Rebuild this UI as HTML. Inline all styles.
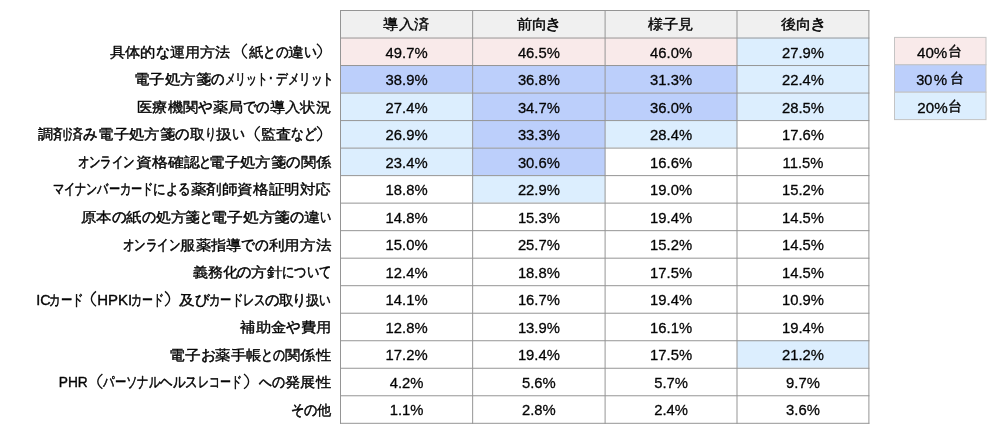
<!DOCTYPE html>
<html lang="ja"><head><meta charset="utf-8"><title>table</title>
<style>html,body{margin:0;padding:0;background:#fff;}body{width:1000px;height:438px;overflow:hidden;}svg{display:block;will-change:transform;}text{font-family:"Liberation Sans",sans-serif;font-size:14.4px;fill:#050505;stroke:#050505;stroke-width:0.38px;stroke-linejoin:round;}.n{font-size:15.4px;text-anchor:middle;stroke-width:0.3px;}.k{font-size:14.6px;stroke-width:0.55px;}.d{font-size:15.4px;stroke-width:0.3px;}.h{text-anchor:middle;}</style></head><body>
<svg width="1000" height="438" viewBox="0 0 1000 438">
<rect x="0" y="0" width="1000" height="438" fill="#fff"/>
<rect x="340.5" y="10.0" width="528.4" height="27.5" fill="#f0f0f0"/>
<rect x="340.5" y="37.5" width="132.1" height="27.5" fill="#f9eaea"/>
<rect x="472.6" y="37.5" width="132.5" height="27.5" fill="#f9eaea"/>
<rect x="605.1" y="37.5" width="131.9" height="27.5" fill="#f9eaea"/>
<rect x="737.0" y="37.5" width="131.9" height="27.5" fill="#dceefe"/>
<rect x="340.5" y="65.0" width="132.1" height="27.5" fill="#bccffb"/>
<rect x="472.6" y="65.0" width="132.5" height="27.5" fill="#bccffb"/>
<rect x="605.1" y="65.0" width="131.9" height="27.5" fill="#bccffb"/>
<rect x="737.0" y="65.0" width="131.9" height="27.5" fill="#dceefe"/>
<rect x="340.5" y="92.6" width="132.1" height="27.5" fill="#dceefe"/>
<rect x="472.6" y="92.6" width="132.5" height="27.5" fill="#bccffb"/>
<rect x="605.1" y="92.6" width="131.9" height="27.5" fill="#bccffb"/>
<rect x="737.0" y="92.6" width="131.9" height="27.5" fill="#dceefe"/>
<rect x="340.5" y="120.1" width="132.1" height="27.5" fill="#dceefe"/>
<rect x="472.6" y="120.1" width="132.5" height="27.5" fill="#bccffb"/>
<rect x="605.1" y="120.1" width="131.9" height="27.5" fill="#dceefe"/>
<rect x="340.5" y="147.6" width="132.1" height="27.5" fill="#dceefe"/>
<rect x="472.6" y="147.6" width="132.5" height="27.5" fill="#bccffb"/>
<rect x="472.6" y="175.1" width="132.5" height="27.5" fill="#dceefe"/>
<rect x="737.0" y="340.2" width="131.9" height="27.5" fill="#dceefe"/>
<line x1="340.0" y1="10.50" x2="869.4" y2="10.50" stroke="#959595" stroke-width="1"/>
<line x1="340.0" y1="38.02" x2="869.4" y2="38.02" stroke="#959595" stroke-width="1"/>
<line x1="340.0" y1="65.54" x2="869.4" y2="65.54" stroke="#959595" stroke-width="1"/>
<line x1="340.0" y1="93.06" x2="869.4" y2="93.06" stroke="#959595" stroke-width="1"/>
<line x1="340.0" y1="120.58" x2="869.4" y2="120.58" stroke="#959595" stroke-width="1"/>
<line x1="340.0" y1="148.10" x2="869.4" y2="148.10" stroke="#959595" stroke-width="1"/>
<line x1="340.0" y1="175.62" x2="869.4" y2="175.62" stroke="#959595" stroke-width="1"/>
<line x1="340.0" y1="203.14" x2="869.4" y2="203.14" stroke="#959595" stroke-width="1"/>
<line x1="340.0" y1="230.66" x2="869.4" y2="230.66" stroke="#959595" stroke-width="1"/>
<line x1="340.0" y1="258.18" x2="869.4" y2="258.18" stroke="#959595" stroke-width="1"/>
<line x1="340.0" y1="285.70" x2="869.4" y2="285.70" stroke="#959595" stroke-width="1"/>
<line x1="340.0" y1="313.22" x2="869.4" y2="313.22" stroke="#959595" stroke-width="1"/>
<line x1="340.0" y1="340.74" x2="869.4" y2="340.74" stroke="#959595" stroke-width="1"/>
<line x1="340.0" y1="368.26" x2="869.4" y2="368.26" stroke="#959595" stroke-width="1"/>
<line x1="340.0" y1="395.78" x2="869.4" y2="395.78" stroke="#959595" stroke-width="1"/>
<line x1="340.0" y1="423.30" x2="869.4" y2="423.30" stroke="#959595" stroke-width="1"/>
<line x1="340.50" y1="10.0" x2="340.50" y2="423.8" stroke="#959595" stroke-width="1"/>
<line x1="472.65" y1="10.0" x2="472.65" y2="423.8" stroke="#959595" stroke-width="1"/>
<line x1="605.10" y1="10.0" x2="605.10" y2="423.8" stroke="#959595" stroke-width="1"/>
<line x1="737.00" y1="10.0" x2="737.00" y2="423.8" stroke="#959595" stroke-width="1"/>
<line x1="868.90" y1="10.0" x2="868.90" y2="423.8" stroke="#959595" stroke-width="1"/>
<rect x="894.5" y="37.4" width="91.5" height="27.4" fill="#f9eaea" stroke="#c4c4c4" stroke-width="1"/>
<rect x="894.5" y="64.8" width="91.5" height="27.4" fill="#bccffb" stroke="#c4c4c4" stroke-width="1"/>
<rect x="894.5" y="92.2" width="91.5" height="27.4" fill="#dceefe" stroke="#c4c4c4" stroke-width="1"/>
<text class="d" x="917.0" y="57.6" textLength="30.3" lengthAdjust="spacingAndGlyphs">40%</text>
<text x="947.8" y="55.8" textLength="14.0" lengthAdjust="spacingAndGlyphs">台</text>
<text class="d" x="916.2" y="85.1" textLength="16.2" lengthAdjust="spacingAndGlyphs">30</text>
<text class="d" x="933.7" y="85.1" textLength="13.4" lengthAdjust="spacingAndGlyphs">%</text>
<text x="949.6" y="83.3" textLength="14.0" lengthAdjust="spacingAndGlyphs">台</text>
<text class="d" x="917.3" y="112.7" textLength="30.3" lengthAdjust="spacingAndGlyphs">20%</text>
<text x="947.8" y="110.9" textLength="14.0" lengthAdjust="spacingAndGlyphs">台</text>
<text x="383.4" y="29.3" textLength="46.0" lengthAdjust="spacingAndGlyphs">導入済</text>
<text x="516.9" y="29.3" textLength="30.6" lengthAdjust="spacingAndGlyphs">前向</text>
<text class="k" x="545.2" y="29.3" textLength="16.7" lengthAdjust="spacingAndGlyphs">き</text>
<text x="647.6" y="29.3" textLength="46.0" lengthAdjust="spacingAndGlyphs">様子見</text>
<text x="781.1" y="29.3" textLength="30.6" lengthAdjust="spacingAndGlyphs">後向</text>
<text class="k" x="809.8" y="29.3" textLength="16.7" lengthAdjust="spacingAndGlyphs">き</text>
<text class="n" transform="translate(406.57,57.62) scale(0.962,1)">49.7%</text>
<text class="n" transform="translate(538.88,57.62) scale(0.962,1)">46.5%</text>
<text class="n" transform="translate(671.05,57.62) scale(0.962,1)">46.0%</text>
<text class="n" transform="translate(802.95,57.62) scale(0.962,1)">27.9%</text>
<text class="n" transform="translate(406.57,85.14) scale(0.962,1)">38.9%</text>
<text class="n" transform="translate(538.88,85.14) scale(0.962,1)">36.8%</text>
<text class="n" transform="translate(671.05,85.14) scale(0.962,1)">31.3%</text>
<text class="n" transform="translate(802.95,85.14) scale(0.962,1)">22.4%</text>
<text class="n" transform="translate(406.57,112.66) scale(0.962,1)">27.4%</text>
<text class="n" transform="translate(538.88,112.66) scale(0.962,1)">34.7%</text>
<text class="n" transform="translate(671.05,112.66) scale(0.962,1)">36.0%</text>
<text class="n" transform="translate(802.95,112.66) scale(0.962,1)">28.5%</text>
<text class="n" transform="translate(406.57,140.18) scale(0.962,1)">26.9%</text>
<text class="n" transform="translate(538.88,140.18) scale(0.962,1)">33.3%</text>
<text class="n" transform="translate(671.05,140.18) scale(0.962,1)">28.4%</text>
<text class="n" transform="translate(802.95,140.18) scale(0.962,1)">17.6%</text>
<text class="n" transform="translate(406.57,167.70) scale(0.962,1)">23.4%</text>
<text class="n" transform="translate(538.88,167.70) scale(0.962,1)">30.6%</text>
<text class="n" transform="translate(671.05,167.70) scale(0.962,1)">16.6%</text>
<text class="n" transform="translate(802.95,167.70) scale(0.962,1)">11.5%</text>
<text class="n" transform="translate(406.57,195.22) scale(0.962,1)">18.8%</text>
<text class="n" transform="translate(538.88,195.22) scale(0.962,1)">22.9%</text>
<text class="n" transform="translate(671.05,195.22) scale(0.962,1)">19.0%</text>
<text class="n" transform="translate(802.95,195.22) scale(0.962,1)">15.2%</text>
<text class="n" transform="translate(406.57,222.74) scale(0.962,1)">14.8%</text>
<text class="n" transform="translate(538.88,222.74) scale(0.962,1)">15.3%</text>
<text class="n" transform="translate(671.05,222.74) scale(0.962,1)">19.4%</text>
<text class="n" transform="translate(802.95,222.74) scale(0.962,1)">14.5%</text>
<text class="n" transform="translate(406.57,250.26) scale(0.962,1)">15.0%</text>
<text class="n" transform="translate(538.88,250.26) scale(0.962,1)">25.7%</text>
<text class="n" transform="translate(671.05,250.26) scale(0.962,1)">15.2%</text>
<text class="n" transform="translate(802.95,250.26) scale(0.962,1)">14.5%</text>
<text class="n" transform="translate(406.57,277.78) scale(0.962,1)">12.4%</text>
<text class="n" transform="translate(538.88,277.78) scale(0.962,1)">18.8%</text>
<text class="n" transform="translate(671.05,277.78) scale(0.962,1)">17.5%</text>
<text class="n" transform="translate(802.95,277.78) scale(0.962,1)">14.5%</text>
<text class="n" transform="translate(406.57,305.30) scale(0.962,1)">14.1%</text>
<text class="n" transform="translate(538.88,305.30) scale(0.962,1)">16.7%</text>
<text class="n" transform="translate(671.05,305.30) scale(0.962,1)">19.4%</text>
<text class="n" transform="translate(802.95,305.30) scale(0.962,1)">10.9%</text>
<text class="n" transform="translate(406.57,332.82) scale(0.962,1)">12.8%</text>
<text class="n" transform="translate(538.88,332.82) scale(0.962,1)">13.9%</text>
<text class="n" transform="translate(671.05,332.82) scale(0.962,1)">16.1%</text>
<text class="n" transform="translate(802.95,332.82) scale(0.962,1)">19.4%</text>
<text class="n" transform="translate(406.57,360.34) scale(0.962,1)">17.2%</text>
<text class="n" transform="translate(538.88,360.34) scale(0.962,1)">19.4%</text>
<text class="n" transform="translate(671.05,360.34) scale(0.962,1)">17.5%</text>
<text class="n" transform="translate(802.95,360.34) scale(0.962,1)">21.2%</text>
<text class="n" transform="translate(406.57,387.86) scale(0.962,1)">4.2%</text>
<text class="n" transform="translate(538.88,387.86) scale(0.962,1)">5.6%</text>
<text class="n" transform="translate(671.05,387.86) scale(0.962,1)">5.7%</text>
<text class="n" transform="translate(802.95,387.86) scale(0.962,1)">9.7%</text>
<text class="n" transform="translate(406.57,415.38) scale(0.962,1)">1.1%</text>
<text class="n" transform="translate(538.88,415.38) scale(0.962,1)">2.8%</text>
<text class="n" transform="translate(671.05,415.38) scale(0.962,1)">2.4%</text>
<text class="n" transform="translate(802.95,415.38) scale(0.962,1)">3.6%</text>
<text x="109.6" y="56.8" textLength="46.2" lengthAdjust="spacingAndGlyphs">具体的</text>
<text class="k" x="155.8" y="56.8" textLength="14.0" lengthAdjust="spacingAndGlyphs">な</text>
<text x="169.8" y="56.8" textLength="60.2" lengthAdjust="spacingAndGlyphs">運用方法</text>
<path d="M247.0 43.7 Q237.8 51.1 247.0 58.5" fill="none" stroke="#111" stroke-width="1.35"/>
<text x="248.6" y="56.8" textLength="14.4" lengthAdjust="spacingAndGlyphs">紙</text>
<text class="k" x="263.0" y="56.8" textLength="25.3" lengthAdjust="spacingAndGlyphs">との</text>
<text x="288.3" y="56.8" textLength="15.9" lengthAdjust="spacingAndGlyphs">違</text>
<text class="k" x="304.2" y="56.8" textLength="12.8" lengthAdjust="spacingAndGlyphs">い</text>
<path d="M316.9 43.7 Q326.1 51.1 316.9 58.5" fill="none" stroke="#111" stroke-width="1.35"/>
<text x="133.6" y="84.3" textLength="77.4" lengthAdjust="spacingAndGlyphs">電子処方箋</text>
<text class="k" x="211.0" y="84.3" textLength="13.5" lengthAdjust="spacingAndGlyphs">の</text>
<text class="k" x="224.5" y="84.3" textLength="43.5" lengthAdjust="spacingAndGlyphs">メリット</text>
<text class="k" x="268.2" y="84.3" textLength="6.0" lengthAdjust="spacingAndGlyphs">･</text>
<text class="k" x="276.1" y="84.3" textLength="58.0" lengthAdjust="spacingAndGlyphs">デメリット</text>
<text x="137.2" y="111.9" textLength="60.8" lengthAdjust="spacingAndGlyphs">医療機関</text>
<text class="k" x="198.0" y="111.9" textLength="14.5" lengthAdjust="spacingAndGlyphs">や</text>
<text x="212.5" y="111.9" textLength="30.4" lengthAdjust="spacingAndGlyphs">薬局</text>
<text class="k" x="242.9" y="111.9" textLength="26.9" lengthAdjust="spacingAndGlyphs">での</text>
<text x="269.8" y="111.9" textLength="61.3" lengthAdjust="spacingAndGlyphs">導入状況</text>
<text x="37.8" y="139.4" textLength="45.5" lengthAdjust="spacingAndGlyphs">調剤済</text>
<text class="k" x="83.3" y="139.4" textLength="14.5" lengthAdjust="spacingAndGlyphs">み</text>
<text x="98.2" y="139.4" textLength="77.1" lengthAdjust="spacingAndGlyphs">電子処方箋</text>
<text class="k" x="175.3" y="139.4" textLength="14.4" lengthAdjust="spacingAndGlyphs">の</text>
<text x="190.0" y="139.4" textLength="15.0" lengthAdjust="spacingAndGlyphs">取</text>
<text class="k" x="204.8" y="139.4" textLength="11.2" lengthAdjust="spacingAndGlyphs">り</text>
<text x="216.0" y="139.4" textLength="15.8" lengthAdjust="spacingAndGlyphs">扱</text>
<text class="k" x="232.0" y="139.4" textLength="12.8" lengthAdjust="spacingAndGlyphs">い</text>
<path d="M259.8 126.3 Q250.6 133.7 259.8 141.1" fill="none" stroke="#111" stroke-width="1.35"/>
<text x="260.5" y="139.4" textLength="30.5" lengthAdjust="spacingAndGlyphs">監査</text>
<text class="k" x="291.0" y="139.4" textLength="25.5" lengthAdjust="spacingAndGlyphs">など</text>
<path d="M317.0 126.3 Q326.2 133.7 317.0 141.1" fill="none" stroke="#111" stroke-width="1.35"/>
<text class="k" x="77.5" y="166.9" textLength="57.3" lengthAdjust="spacingAndGlyphs">オンライン</text>
<text x="135.8" y="166.9" textLength="63.8" lengthAdjust="spacingAndGlyphs">資格確認</text>
<text class="k" x="198.6" y="166.9" textLength="12.4" lengthAdjust="spacingAndGlyphs">と</text>
<text x="209.3" y="166.9" textLength="76.9" lengthAdjust="spacingAndGlyphs">電子処方箋</text>
<text class="k" x="286.2" y="166.9" textLength="14.4" lengthAdjust="spacingAndGlyphs">の</text>
<text x="300.6" y="166.9" textLength="30.5" lengthAdjust="spacingAndGlyphs">関係</text>
<text class="k" x="52.8" y="194.4" textLength="100.4" lengthAdjust="spacingAndGlyphs">マイナンバーカード</text>
<text class="k" x="153.2" y="194.4" textLength="37.4" lengthAdjust="spacingAndGlyphs">による</text>
<text x="190.6" y="194.4" textLength="140.5" lengthAdjust="spacingAndGlyphs">薬剤師資格証明対応</text>
<text x="80.7" y="221.9" textLength="30.9" lengthAdjust="spacingAndGlyphs">原本</text>
<text class="k" x="111.6" y="221.9" textLength="14.6" lengthAdjust="spacingAndGlyphs">の</text>
<text x="126.2" y="221.9" textLength="15.4" lengthAdjust="spacingAndGlyphs">紙</text>
<text class="k" x="141.6" y="221.9" textLength="14.0" lengthAdjust="spacingAndGlyphs">の</text>
<text x="155.6" y="221.9" textLength="44.8" lengthAdjust="spacingAndGlyphs">処方箋</text>
<text class="k" x="199.6" y="221.9" textLength="12.6" lengthAdjust="spacingAndGlyphs">と</text>
<text x="211.0" y="221.9" textLength="79.3" lengthAdjust="spacingAndGlyphs">電子処方箋</text>
<text class="k" x="290.3" y="221.9" textLength="14.1" lengthAdjust="spacingAndGlyphs">の</text>
<text x="304.4" y="221.9" textLength="16.0" lengthAdjust="spacingAndGlyphs">違</text>
<text class="k" x="320.4" y="221.9" textLength="11.1" lengthAdjust="spacingAndGlyphs">い</text>
<text class="k" x="123.0" y="249.5" textLength="57.4" lengthAdjust="spacingAndGlyphs">オンライン</text>
<text x="180.4" y="249.5" textLength="61.0" lengthAdjust="spacingAndGlyphs">服薬指導</text>
<text class="k" x="241.4" y="249.5" textLength="27.4" lengthAdjust="spacingAndGlyphs">での</text>
<text x="268.8" y="249.5" textLength="62.3" lengthAdjust="spacingAndGlyphs">利用方法</text>
<text x="192.6" y="277.0" textLength="45.0" lengthAdjust="spacingAndGlyphs">義務化</text>
<text class="k" x="236.7" y="277.0" textLength="14.3" lengthAdjust="spacingAndGlyphs">の</text>
<text x="251.0" y="277.0" textLength="31.2" lengthAdjust="spacingAndGlyphs">方針</text>
<text class="k" x="282.2" y="277.0" textLength="49.1" lengthAdjust="spacingAndGlyphs">について</text>
<text x="36.2" y="304.5" textLength="14.4" lengthAdjust="spacingAndGlyphs">IC</text>
<text class="k" x="49.3" y="304.5" textLength="34.0" lengthAdjust="spacingAndGlyphs">カード</text>
<path d="M96.0 291.4 Q86.8 298.8 96.0 306.2" fill="none" stroke="#111" stroke-width="1.35"/>
<text x="97.3" y="304.5" textLength="34.9" lengthAdjust="spacingAndGlyphs">HPKI</text>
<text class="k" x="131.2" y="304.5" textLength="32.8" lengthAdjust="spacingAndGlyphs">カード</text>
<path d="M165.0 291.4 Q174.2 298.8 165.0 306.2" fill="none" stroke="#111" stroke-width="1.35"/>
<text x="179.2" y="304.5" textLength="15.7" lengthAdjust="spacingAndGlyphs">及</text>
<text class="k" x="194.9" y="304.5" textLength="14.7" lengthAdjust="spacingAndGlyphs">び</text>
<text class="k" x="209.0" y="304.5" textLength="56.4" lengthAdjust="spacingAndGlyphs">カードレス</text>
<text class="k" x="265.2" y="304.5" textLength="14.4" lengthAdjust="spacingAndGlyphs">の</text>
<text x="278.7" y="304.5" textLength="14.6" lengthAdjust="spacingAndGlyphs">取</text>
<text class="k" x="291.9" y="304.5" textLength="14.4" lengthAdjust="spacingAndGlyphs">り</text>
<text x="306.1" y="304.5" textLength="13.4" lengthAdjust="spacingAndGlyphs">扱</text>
<text class="k" x="319.2" y="304.5" textLength="11.6" lengthAdjust="spacingAndGlyphs">い</text>
<text x="240.3" y="332.0" textLength="45.9" lengthAdjust="spacingAndGlyphs">補助金</text>
<text class="k" x="286.2" y="332.0" textLength="14.4" lengthAdjust="spacingAndGlyphs">や</text>
<text x="300.6" y="332.0" textLength="30.5" lengthAdjust="spacingAndGlyphs">費用</text>
<text x="169.0" y="359.5" textLength="31.5" lengthAdjust="spacingAndGlyphs">電子</text>
<text class="k" x="200.5" y="359.5" textLength="14.9" lengthAdjust="spacingAndGlyphs">お</text>
<text x="215.4" y="359.5" textLength="46.0" lengthAdjust="spacingAndGlyphs">薬手帳</text>
<text class="k" x="261.4" y="359.5" textLength="23.8" lengthAdjust="spacingAndGlyphs">との</text>
<text x="285.2" y="359.5" textLength="45.9" lengthAdjust="spacingAndGlyphs">関係性</text>
<text x="58.8" y="387.1" textLength="29.0" lengthAdjust="spacingAndGlyphs">PHR</text>
<path d="M102.4 374.0 Q93.2 381.4 102.4 388.8" fill="none" stroke="#111" stroke-width="1.35"/>
<text class="k" x="103.4" y="387.1" textLength="56.8" lengthAdjust="spacingAndGlyphs">パーソナル</text>
<text class="k" x="160.2" y="387.1" textLength="37.6" lengthAdjust="spacingAndGlyphs">ヘルス</text>
<text class="k" x="197.8" y="387.1" textLength="44.0" lengthAdjust="spacingAndGlyphs">レコード</text>
<path d="M244.0 374.0 Q253.2 381.4 244.0 388.8" fill="none" stroke="#111" stroke-width="1.35"/>
<text class="k" x="259.3" y="387.1" textLength="12.7" lengthAdjust="spacingAndGlyphs">へ</text>
<text class="k" x="272.0" y="387.1" textLength="13.0" lengthAdjust="spacingAndGlyphs">の</text>
<text x="285.2" y="387.1" textLength="45.9" lengthAdjust="spacingAndGlyphs">発展性</text>
<text class="k" x="291.0" y="414.6" textLength="26.4" lengthAdjust="spacingAndGlyphs">その</text>
<text x="316.9" y="414.6" textLength="14.2" lengthAdjust="spacingAndGlyphs">他</text>
</svg></body></html>
